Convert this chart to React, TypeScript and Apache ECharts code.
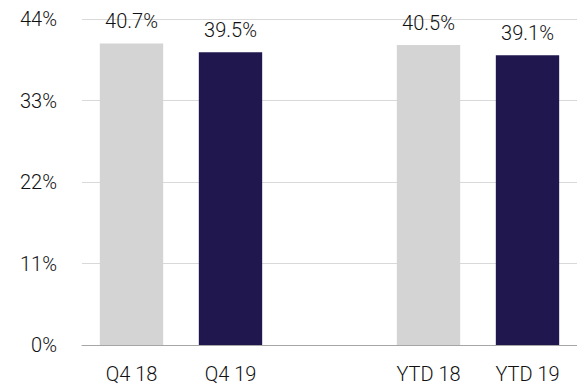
import React, { useEffect, useRef } from "react";
import * as echarts from "echarts";

const categories = ["Q4 18", "Q4 19", "", "YTD 18", "YTD 19"];
const values: (number | null)[] = [40.7, 39.5, null, 40.5, 39.1];
const isCurrent = [false, true, false, false, true];
const yTicks = { min: 0, max: 44, interval: 11 };

const GREY = "#d4d4d4";
const NAVY = "#21174f";
const FONT = "Roboto, sans-serif";
const FS = 20;
const FW = 300;
const TXT = "#111111";

export default function App() {
  const ref = useRef<HTMLDivElement>(null);
  useEffect(() => {
    if (!ref.current) return;
    const chart = echarts.init(ref.current, undefined, { renderer: "svg" });
    chart.setOption({
      animation: false,
      grid: { left: 82, top: 19, width: 505, height: 326 },
      xAxis: {
        type: "category",
        data: categories,
        axisTick: { show: false },
        axisLine: { show: true, lineStyle: { color: "#a6a6a6", width: 1 } },
        axisLabel: { color: TXT, fontSize: FS, fontWeight: FW, fontFamily: FONT, margin: 19 },
      },
      yAxis: {
        type: "value",
        min: yTicks.min,
        max: yTicks.max,
        interval: yTicks.interval,
        axisLine: { show: false },
        axisTick: { show: false },
        splitLine: { lineStyle: { color: "#d9d9d9", width: 1 } },
        axisLabel: {
          color: TXT,
          fontSize: FS,
          fontWeight: FW,
          fontFamily: FONT,
          margin: 25,
          formatter: (v: number) => `${v}%`,
        },
      },
      series: [
        {
          type: "bar",
          barWidth: "64%",
          data: values.map((v, i) => ({
            value: v,
            itemStyle: { color: isCurrent[i] ? NAVY : GREY },
          })),
          label: {
            show: true,
            position: "top",
            distance: 12,
            color: TXT,
            fontSize: FS,
            fontWeight: FW,
            fontFamily: FONT,
            formatter: (p: any) => (p.value == null ? "" : `${p.value.toFixed(1)}%`),
          },
        },
      ],
    });
    return () => chart.dispose();
  }, []);
  return <div ref={ref} style={{ width: 577, height: 386, position: "absolute", left: 0, top: 0 }} />;
}
